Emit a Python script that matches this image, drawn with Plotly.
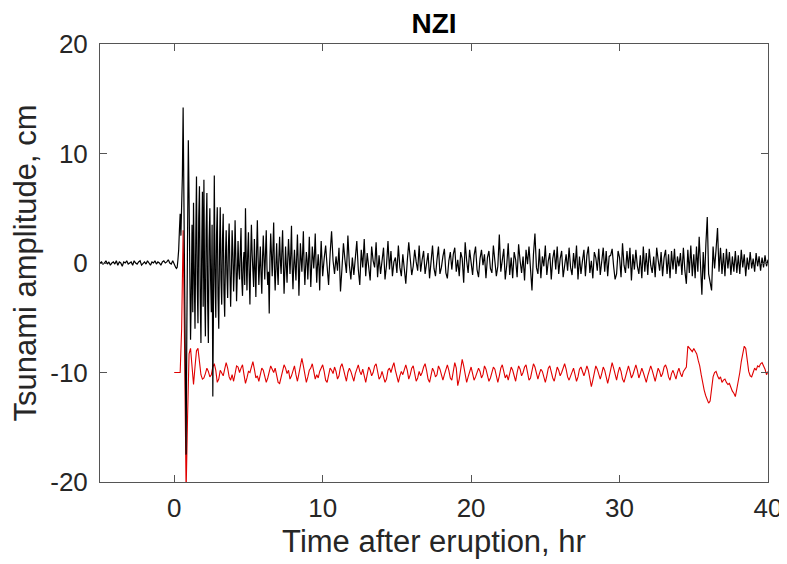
import plotly.graph_objects as go

# Each row holds the samples of one hour, evenly spaced inside that hour
black_first_hour = -5
red_first_hour = 0

# Observed tsunami record (black), cm
black_rows = [
    [0.0, 0.1, -0.1, 0.0, 0.2, -0.1, 0.1, -0.2, 0.0, 0.1],
    [-0.1, 0.2, -0.2, 0.1, 0.0, -0.3, 0.1, 0.0, 0.2, -0.1],
    [0.0, 0.1, -0.2, 0.2, 0.0, -0.1, 0.1, 0.2, -0.2, 0.0],
    [0.1, -0.1, 0.2, 0.0, -0.2, 0.1, 0.0, 0.2, -0.1, 0.1],
    [0.0, -0.2, 0.1, 0.2, 0.0, 0.1, 0.3, 0.0, -0.1, 0.2],
    [-0.2, -0.3, -0.4, -0.5, -0.4, 0.3, 1.2, 3.0, 4.5, 2.5,
     5.2, 8.0, 14.2, 5.0, -6.0, -12.0, -17.5, -6.0, 4.0, 11.2],
    [6.0, -2.0, -7.0, -3.0, 3.5, -4.5, 5.5, -1.0, -6.0, 2.0,
     7.9, -2.0, -5.5, 4.0, 7.0, -3.0, -7.3, 1.0, 6.5, -4.0],
    [7.6, -2.5, -6.7, 3.0, 6.4, -3.5, -7.3, 2.0, 5.0, -1.5,
     -4.5, 3.5, -12.2, -3.0, 8.0, -1.0, -5.0, 2.5, 5.1, -3.0],
    [-6.0, 1.0, 5.1, -1.5, -3.8, 2.0, 4.5, -2.5, -4.9, 0.5,
     3.0, -1.0, -3.2, 1.5, 3.6, -0.5, -4.0, -1.0, 3.0, 1.0],
    [-2.6, -0.5, 3.9, 0.5, -3.5, -1.0, 2.0, -0.5, -1.5, 1.0,
     3.2, -1.5, -3.0, 0.0, 1.0, -2.0, 5.0, 0.5, -2.5, 0.8],
    [2.8, -1.0, -3.8, 0.5, 3.5, 0.8, -1.0, -2.2, 2.2, -0.5,
     -3.1, 1.0, 3.9, 0.5, -2.0, -0.3, 1.5, -1.0, -2.8, 0.5],
    [2.5, 0.3, -1.5, 1.0, 3.0, -0.5, -2.0, -0.8, -4.6, 0.5,
     2.7, 0.8, -1.2, 1.2, 3.7, -0.5, -2.5, -0.2, 1.8, -0.6],
    [-2.0, 0.5, 2.4, 0.2, -1.0, 1.0, 3.0, 0.0, -2.8, -0.8,
     1.5, -0.2, -1.8, 0.4, 2.2, 0.6, -1.0, 0.8, 3.4, -0.5],
    [-2.4, -0.2, 1.2, -0.3, -1.6, 0.5, 2.6, 0.2, -3.0, -0.6,
     1.8, 0.4, -0.8, 0.9, 2.9, -0.2, -2.0, -0.4, 1.0, 0.3],
    [-1.5, 0.2, 2.4, 0.0, -2.2, -0.5, 1.5, 0.6, -0.5, 0.8,
     2.7, 0.1, -1.8, -0.3, 0.8, -0.4, -2.5, 0.2, 2.0, 0.4],
    [-1.2, 0.4, 1.6, -0.3, -2.0, 0.8, 2.9, 0.2, -1.0, 0.6],
    [-0.7, 1.4, -2.6, -0.5, 1.8, 0.3, -0.9, 2.5, -0.2, -1.5],
    [0.5, -1.1, 0.2, 2.0, -0.6, -2.0, 1.2, -0.4, 2.2, -1.2],
    [0.9, -0.3, -1.6, 1.5, 0.2, -0.4, 1.9, -1.3, 0.7, -1.0],
    [0.4, 1.4, -1.5, -0.2, 2.0, -0.6, 1.1, -1.2, 0.1, 0.5],
    [-0.9, 1.6, -0.4, -1.2, 0.8, -0.5, -1.9, 0.2, 1.9, 0.4],
    [-1.1, -0.3, 1.2, 0.1, -0.7, 1.6, -0.8, 0.3, 1.1, -1.0],
    [0.2, 0.9, -1.4, 0.6, 1.6, -0.5, -1.2, 0.3, 1.5, -1.0],
    [-0.4, 0.6, 1.3, -0.9, -1.4, 0.2, 1.0, -0.6, 0.8, 1.4],
    [-0.8, 0.3, -1.2, 1.0, 0.4, -1.8, 1.9, 0.2, -0.9, 1.2],
    [-0.3, -1.1, 0.7, 1.5, -0.6, -1.3, 0.4, 1.2, -0.2, 0.8],
    [-1.4, 0.5, 1.1, -0.5, -0.9, 1.6, 0.2, -1.2, -0.3, 2.6],
    [-0.8, 0.6, 1.3, -1.5, -0.2, 1.8, -1.1, 0.5, -1.4, 1.0],
    [0.3, -1.3, 1.7, 0.2, -0.9, 0.6, -1.6, 1.2, -0.1, 1.5],
    [-0.6, -2.5, 0.8, 2.7, -0.4, -1.0, 1.3, -1.4, 0.6, -0.3],
    [1.6, -1.1, 0.2, 0.9, -1.5, 0.4, 1.2, -0.6, 1.5, -1.0],
    [0.4, 1.1, -1.3, -0.2, 0.8, -0.7, 1.4, -0.4, -1.1, 0.9],
    [-0.5, 1.6, -1.5, 0.6, -1.0, 0.2, 1.2, -1.2, 0.7, 1.5],
    [-0.9, 0.2, -1.4, 1.0, 0.5, -0.7, 1.3, -1.1, 0.3, 1.4],
    [-0.8, 1.1, -1.2, 0.6, 0.7, 1.3, -0.3, -1.5, -1.0, 1.1],
    [0.5, -1.3, 1.8, -0.2, -0.9, 1.1, -0.5, 1.4, -1.6, 0.8],
    [-0.6, 1.2, -0.3, -1.0, 0.7, -1.4, 1.5, -0.8, 0.9, -1.1],
    [1.3, -0.2, -0.9, 0.6, -1.3, 1.4, 0.3, -0.7, 1.0, -1.2],
    [0.5, 1.2, -1.0, 0.8, -1.4, 1.1, -0.6, 1.3, -1.0, 0.6],
    [-0.3, 0.9, -1.1, 1.4, -0.7, -1.9, 1.2, -0.9, 1.6, -1.2],
    [0.8, -1.4, 1.5, -0.8, 2.4, -1.0, -2.9, 1.0, -1.5, 1.8, 4.2],
    [-1.0, -2.0, -2.5, 1.5, -0.5, 1.2, 3.2, -0.8, 1.4, -1.0],
    [0.9, -1.2, 1.3, -0.5, 1.0, -1.1, 0.6, -0.8, 1.1, -0.9],
    [0.7, -1.0, 1.2, -0.4, 0.8, -1.2, 0.5, -0.6, 1.0, -0.5],
    [0.4, -0.8, 0.9, -0.3, 0.6, -0.7, 0.5, -0.4, 0.7, -0.3],
    [0.3],
]

# Model / reference record (red), cm
red_rows = [
    [-10.0, -10.0, -10.0, -10.0, -10.0, -6.0, 3.0, -8.0, -21.0, -14.0],
    [-8.3, -7.8, -9.8, -11.1, -9.5, -8.0, -7.8, -9.0, -10.2, -10.6],
    [-10.5, -10.1, -9.6, -9.9, -10.4, -10.2, -9.5, -9.2, -9.8, -10.9],
    [-10.6, -9.8, -10.0, -10.3, -9.7, -9.1, -9.6, -10.4, -10.7, -10.2],
    [-10.8, -10.1, -9.4, -9.5, -10.0, -9.6, -9.3, -10.2, -11.0, -10.5],
    [-9.9, -10.0, -9.4, -9.0, -9.7, -10.5, -10.3, -10.8, -10.2, -9.6],
    [-9.8, -10.4, -10.9, -10.5, -9.9, -9.4, -9.7, -10.0, -9.6, -10.3],
    [-10.9, -11.0, -10.4, -9.8, -9.3, -9.6, -10.1, -9.8, -10.6, -10.3],
    [-9.7, -9.4, -10.2, -10.8, -10.1, -9.5, -8.7, -9.4, -10.3, -10.9],
    [-10.4, -9.8, -9.6, -9.2, -9.9, -10.6, -10.2, -10.5, -9.9, -9.5],
    [-9.3, -9.9, -10.7, -10.9, -10.3, -9.6, -9.8, -10.1, -9.5, -9.9],
    [-10.6, -10.3, -9.5, -9.2, -9.7, -10.4, -10.8, -10.0, -9.6, -9.9],
    [-10.5, -10.8, -10.1, -9.6, -9.3, -9.9, -10.2, -9.7, -10.4, -10.9],
    [-10.2, -9.5, -9.8, -10.3, -10.0, -9.4, -9.2, -9.8, -10.6, -10.4],
    [-9.9, -10.4, -10.9, -10.6, -9.8, -9.6, -10.0, -9.5, -9.1, -9.8],
    [-10.5, -10.9, -10.3, -9.9, -10.2, -9.7, -9.3, -9.8, -10.6, -10.2],
    [-9.6, -9.4, -10.1, -10.8, -10.5, -9.9, -10.3, -10.0, -9.5, -9.2],
    [-9.8, -10.6, -10.9, -10.1, -9.6, -9.9, -10.4, -10.2, -9.4, -9.7],
    [-10.3, -10.7, -10.2, -9.6, -9.3, -9.8, -10.5, -10.7, -10.0, -9.1],
    [-9.6, -11.2, -10.6, -9.8, -8.8, -9.4, -10.3, -10.9, -10.4, -9.8],
    [-9.5, -10.1, -10.7, -10.4, -10.0, -9.6, -9.9, -10.5, -10.2, -9.4],
    [-9.7, -10.3, -10.8, -10.5, -9.9, -9.5, -9.7, -10.4, -10.9, -10.3],
    [-9.6, -9.3, -9.9, -10.5, -10.2, -10.7, -10.1, -9.5, -9.8, -10.4],
    [-10.8, -10.0, -9.4, -9.7, -10.3, -10.0, -9.5, -9.3, -10.1, -10.7],
    [-10.5, -9.8, -9.2, -9.5, -10.2, -10.6, -10.1, -9.7, -9.9, -10.5],
    [-10.9, -10.3, -9.6, -9.4, -10.0, -10.5, -10.8, -10.2, -9.5, -9.8],
    [-10.3, -10.0, -9.6, -9.2, -9.7, -10.4, -10.7, -10.3, -9.8, -9.6],
    [-10.2, -10.8, -10.4, -9.7, -9.5, -10.0, -10.3, -9.9, -9.4, -9.8],
    [-10.6, -11.3, -10.7, -10.0, -9.4, -9.7, -10.3, -10.6, -10.1, -9.5],
    [-9.8, -10.5, -11.0, -10.4, -9.6, -9.1, -9.6, -10.3, -10.7, -10.0],
    [-9.5, -9.9, -10.6, -10.9, -10.3, -9.8, -9.4, -9.9, -10.5, -10.2],
    [-9.7, -9.3, -9.8, -10.5, -10.1, -9.6, -10.0, -10.6, -10.9, -10.3],
    [-9.7, -9.4, -9.8, -10.3, -10.8, -10.2, -9.6, -9.9, -10.4, -10.1],
    [-9.5, -9.3, -9.7, -10.4, -10.7, -10.1, -9.8, -10.2, -10.6, -10.0],
    [-9.6, -10.1, -10.4, -9.9, -9.7, -9.5, -7.6, -7.8, -7.9, -8.1],
    [-7.8, -8.0, -8.3, -8.9, -9.4, -10.2, -11.0, -11.6, -12.1, -12.5],
    [-12.8, -12.6, -11.5, -10.4, -10.0, -9.9, -10.3, -10.6, -10.4, -10.9],
    [-10.7, -10.6, -10.9, -11.1, -11.0, -11.4, -11.7, -11.9, -12.2, -11.5],
    [-10.8, -10.0, -9.0, -8.2, -7.6, -7.8, -8.8, -9.9, -10.3, -10.4],
    [-10.0, -9.6, -9.8, -9.4, -9.5, -9.2, -9.1, -9.4, -9.7, -10.2],
    [-9.9],
]

x_ticks = [0, 10, 20, 30, 40]
y_ticks = [-20, -10, 0, 10, 20]
y_tick_text = ["-20", "-10", "0", "10", "20"]
title_text = "NZI"
x_title = "Time after eruption, hr"
y_title = "Tsunami amplitude, cm"


def flatten(rows, first_hour):
    xs, ys = [], []
    for i, row in enumerate(rows):
        n = len(row)
        for j, v in enumerate(row):
            xs.append(round(first_hour + i + j / n, 4))
            ys.append(v)
    return xs, ys


bx, by = flatten(black_rows, black_first_hour)
rx, ry = flatten(red_rows, red_first_hour)

fig = go.Figure()
fig.add_trace(go.Scatter(x=rx, y=ry, mode="lines",
                         line=dict(color="#e00000", width=1.1), showlegend=False))
fig.add_trace(go.Scatter(x=bx, y=by, mode="lines",
                         line=dict(color="black", width=1.2), showlegend=False))

font_family = "Liberation Sans, Arial, sans-serif"
axis_common = dict(
    showline=True, linecolor="#555555", linewidth=1, mirror="ticks",
    ticks="inside", ticklen=7, tickcolor="#555555", tickwidth=1,
    showgrid=False, zeroline=False, automargin=False,
    tickfont=dict(family=font_family, size=26, color="#262626"),
)

# The page body adds an 8 px offset, so the figure is sized 8 px smaller
fig.update_layout(
    width=779, height=556,
    margin=dict(l=92, r=19, t=36, b=82),
    paper_bgcolor="white", plot_bgcolor="white",
    title=dict(text="<b>" + title_text + "</b>", x=0.5, xref="paper", xanchor="center",
               y=1 - 15 / 556, yanchor="middle", yref="container",
               font=dict(family=font_family, size=28, color="black")),
    xaxis=dict(range=[-5, 40], tickvals=x_ticks, ticklabelstandoff=3,
               title=dict(text=x_title, standoff=8,
                          font=dict(family=font_family, size=31, color="#262626")),
               **axis_common),
    yaxis=dict(range=[-20, 20], tickvals=y_ticks, ticktext=y_tick_text,
               ticklabelstandoff=6,
               title=dict(text=y_title, standoff=7,
                          font=dict(family=font_family, size=31, color="#262626")),
               **axis_common),
)

fig.write_html("out.html")
